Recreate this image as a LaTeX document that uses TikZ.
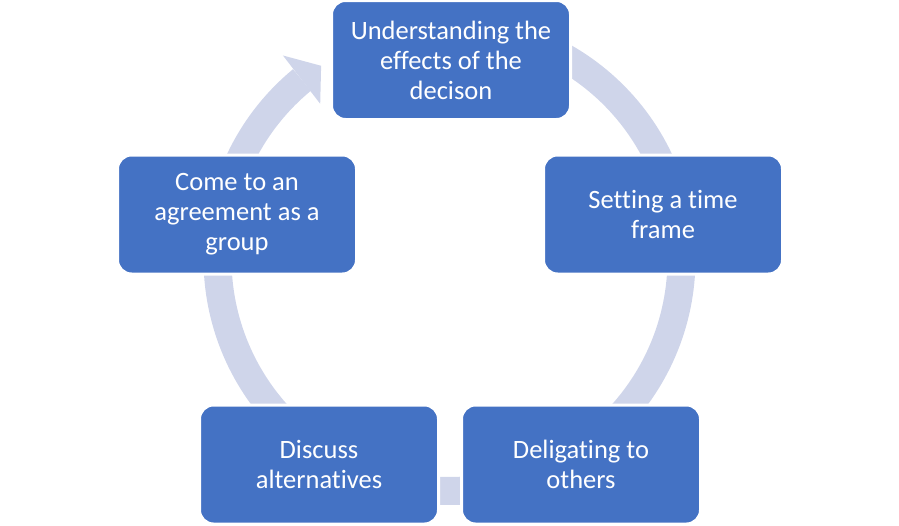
\documentclass[tikz,border=0pt]{standalone}
\usepackage{fontspec}
\setmainfont{Carlito}[Ligatures=NoCommon]
\definecolor{boxblue}{HTML}{4472C4}
\definecolor{ringc}{HTML}{CFD5EA}
\begin{document}
\begin{tikzpicture}[x=1pt,y=-1pt,
  cyc/.style={draw=white, line width=3pt, fill=boxblue, rounded corners=14pt,
    minimum width=239pt, minimum height=119pt, inner sep=2pt,
    text=white, align=center, font=\fontsize{26.5}{30}\selectfont}]
\useasboundingbox (0,0) rectangle (899,525);
% ring band
\fill[ringc] plot[domain=129.5:422, samples=200] ({449.5+246*cos(\x)}, {259-246*sin(\x)})
  -- plot[domain=422:129.5, samples=200] ({449.5+218*cos(\x)}, {259-218*sin(\x)}) -- cycle;
% arrow head
\fill[ringc] ({449.5+263*cos(129.3)}, {259-263*sin(129.3)})
  -- ({449.5+232*cos(123.6)}, {259-232*sin(123.6)})
  -- ({449.5+202*cos(129.8)}, {259-202*sin(129.8)}) -- cycle;
% boxes
\node[cyc] (n1) at (451,60) {Understanding the\\effects of the\\decison};
\node[cyc] (n2) at (663,214.5) {Setting a time\\frame};
\node[cyc] (n3) at (581,464.5) {Deligating to\\others};
\node[cyc] (n4) at (319,464.5) {Discuss\\alternatives};
\node[cyc] (n5) at (237,214.5) {Come to an\\agreement as a\\group};
\end{tikzpicture}
\end{document}
